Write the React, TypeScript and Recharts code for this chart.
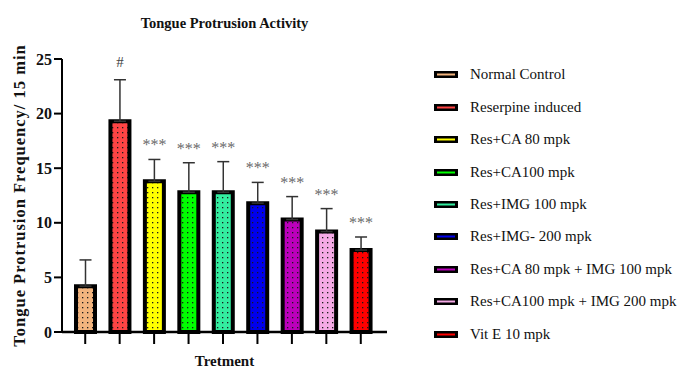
import React from 'react';
import { BarChart, Bar, XAxis, YAxis, ErrorBar, Cell, LabelList, Legend } from 'recharts';

const categories = [
  'Normal Control',
  'Reserpine induced',
  'Res+CA 80 mpk',
  'Res+CA100 mpk',
  'Res+IMG 100 mpk',
  'Res+IMG- 200 mpk',
  'Res+CA 80 mpk + IMG 100 mpk',
  'Res+CA100 mpk + IMG 200 mpk',
  'Vit E 10 mpk',
];
const means = [4.2, 19.3, 13.8, 12.8, 12.8, 11.8, 10.3, 9.2, 7.5];
const errors = [2.4, 3.8, 2.0, 2.7, 2.8, 1.9, 2.1, 2.1, 1.2];
const marks = ['', '#', '***', '***', '***', '***', '***', '***', '***'];
const colors = ['#F2B47E', '#FF4444', '#FFFF00', '#00FF00', '#33EEA0', '#0000EE', '#BB00BB', '#F5AAE6', '#FF0000'];
const yTicks = [0, 5, 10, 15, 20, 25];

const data = categories.map((name, i) => ({ name, mean: means[i], err: [0, errors[i]] }));

const FONT = '"Liberation Serif", "Times New Roman", serif';

const renderMark = (props: any) => {
  const { x, y, width, height, index } = props;
  const i = typeof index === 'number' ? index : 0;
  const m = marks[i];
  if (!m) return null;
  const k = height / means[i];
  const errTop = y - errors[i] * k;
  const cx = x + width / 2;
  return (
    <text
      x={cx}
      y={m === '#' ? errTop - 13 : errTop - 9}
      textAnchor="middle"
      fontFamily={FONT}
      fontSize={m === '#' ? 15 : 16}
      fill={m === '#' ? '#444' : '#6a6a6a'}
    >
      {m}
    </text>
  );
};

const EmptyTick = () => <g />;

const YLabel = (props: any) => {
  const vb = props.viewBox || {};
  const cy = (vb.y ?? 59) + (vb.height ?? 273) / 2;
  const x = 25;
  return (
    <text
      x={x}
      y={cy}
      transform={`rotate(-90, ${x}, ${cy})`}
      textAnchor="middle"
      fontFamily={FONT}
      fontWeight="bold"
      fontSize={16.5}
      letterSpacing={1}
      fill="#111"
    >
      Tongue Protrusion Frequency/ 15 min
    </text>
  );
};

const renderLegend = () => (
  <div style={{ fontFamily: FONT, fontSize: 15, color: '#111' }}>
    {categories.map((c, i) => (
      <div key={c} style={{ display: 'flex', alignItems: 'center', height: 32.4 }}>
        <svg width={24} height={9} style={{ display: 'block', flexShrink: 0 }}>
          <rect x={0} y={1} width={24} height={7} fill="#000" />
          <line x1={3} x2={21} y1={4.5} y2={4.5} stroke={colors[i]} strokeWidth={2} />
        </svg>
        <span style={{ marginLeft: 12, whiteSpace: 'nowrap', lineHeight: '17px' }}>{c}</span>
      </div>
    ))}
  </div>
);

export default function App() {
  return (
    <div style={{ position: 'absolute', left: 0, top: 0, width: 678, height: 370, background: '#fff' }}>
      <BarChart
        width={678}
        height={370}
        data={data}
        margin={{ top: 59, right: 291, left: 0, bottom: 0 }}
        barCategoryGap={0}
      >
        <defs>
          {colors.map((c, i) => (
            <pattern key={i} id={`dots${i}`} width={5} height={5} patternUnits="userSpaceOnUse">
              <rect width={5} height={5} fill={c} />
              <rect x={2} y={2} width={1.3} height={1.3} fill="#1a1a1a" />
            </pattern>
          ))}
        </defs>
        <XAxis
          dataKey="name"
          height={38}
          padding={{ left: 6, right: 9 }}
          axisLine={{ stroke: '#000', strokeWidth: 2.5 }}
          tickLine={{ stroke: '#000', strokeWidth: 2 }}
          tickSize={12}
          tick={<EmptyTick />}
          interval={0}
          label={{
            value: 'Tretment',
            position: 'insideBottom',
            offset: 4,
            fontFamily: FONT,
            fontWeight: 'bold',
            fontSize: 15,
            fill: '#111',
          }}
        />
        <YAxis
          width={62}
          domain={[0, 25]}
          ticks={yTicks}
          interval={0}
          axisLine={{ stroke: '#000', strokeWidth: 2 }}
          tickLine={{ stroke: '#000', strokeWidth: 2 }}
          tickSize={8}
          tick={{ fontFamily: FONT, fontWeight: 'bold', fontSize: 16, fill: '#111' }}
          label={<YLabel />}
        />
        <Legend
          layout="vertical"
          align="center"
          verticalAlign="middle"
          content={renderLegend}
          wrapperStyle={{ left: 434, top: 58.8, width: 244, height: 292 }}
        />
        <Bar dataKey="mean" barSize={19} stroke="#000" strokeWidth={4} isAnimationActive={false}>
          {data.map((d, i) => (
            <Cell key={d.name} fill={`url(#dots${i})`} />
          ))}
          <ErrorBar dataKey="err" width={6} stroke="#333" strokeWidth={1.5} direction="y" />
          <LabelList dataKey="mean" content={renderMark} />
        </Bar>
      </BarChart>
      <svg
        width={678}
        height={40}
        style={{ position: 'absolute', left: 0, top: 0, pointerEvents: 'none' }}
      >
        <text x={224.5} y={28} textAnchor="middle" fontFamily={FONT} fontWeight="bold" fontSize={14.5} fill="#111">
          Tongue Protrusion Activity
        </text>
      </svg>
    </div>
  );
}
